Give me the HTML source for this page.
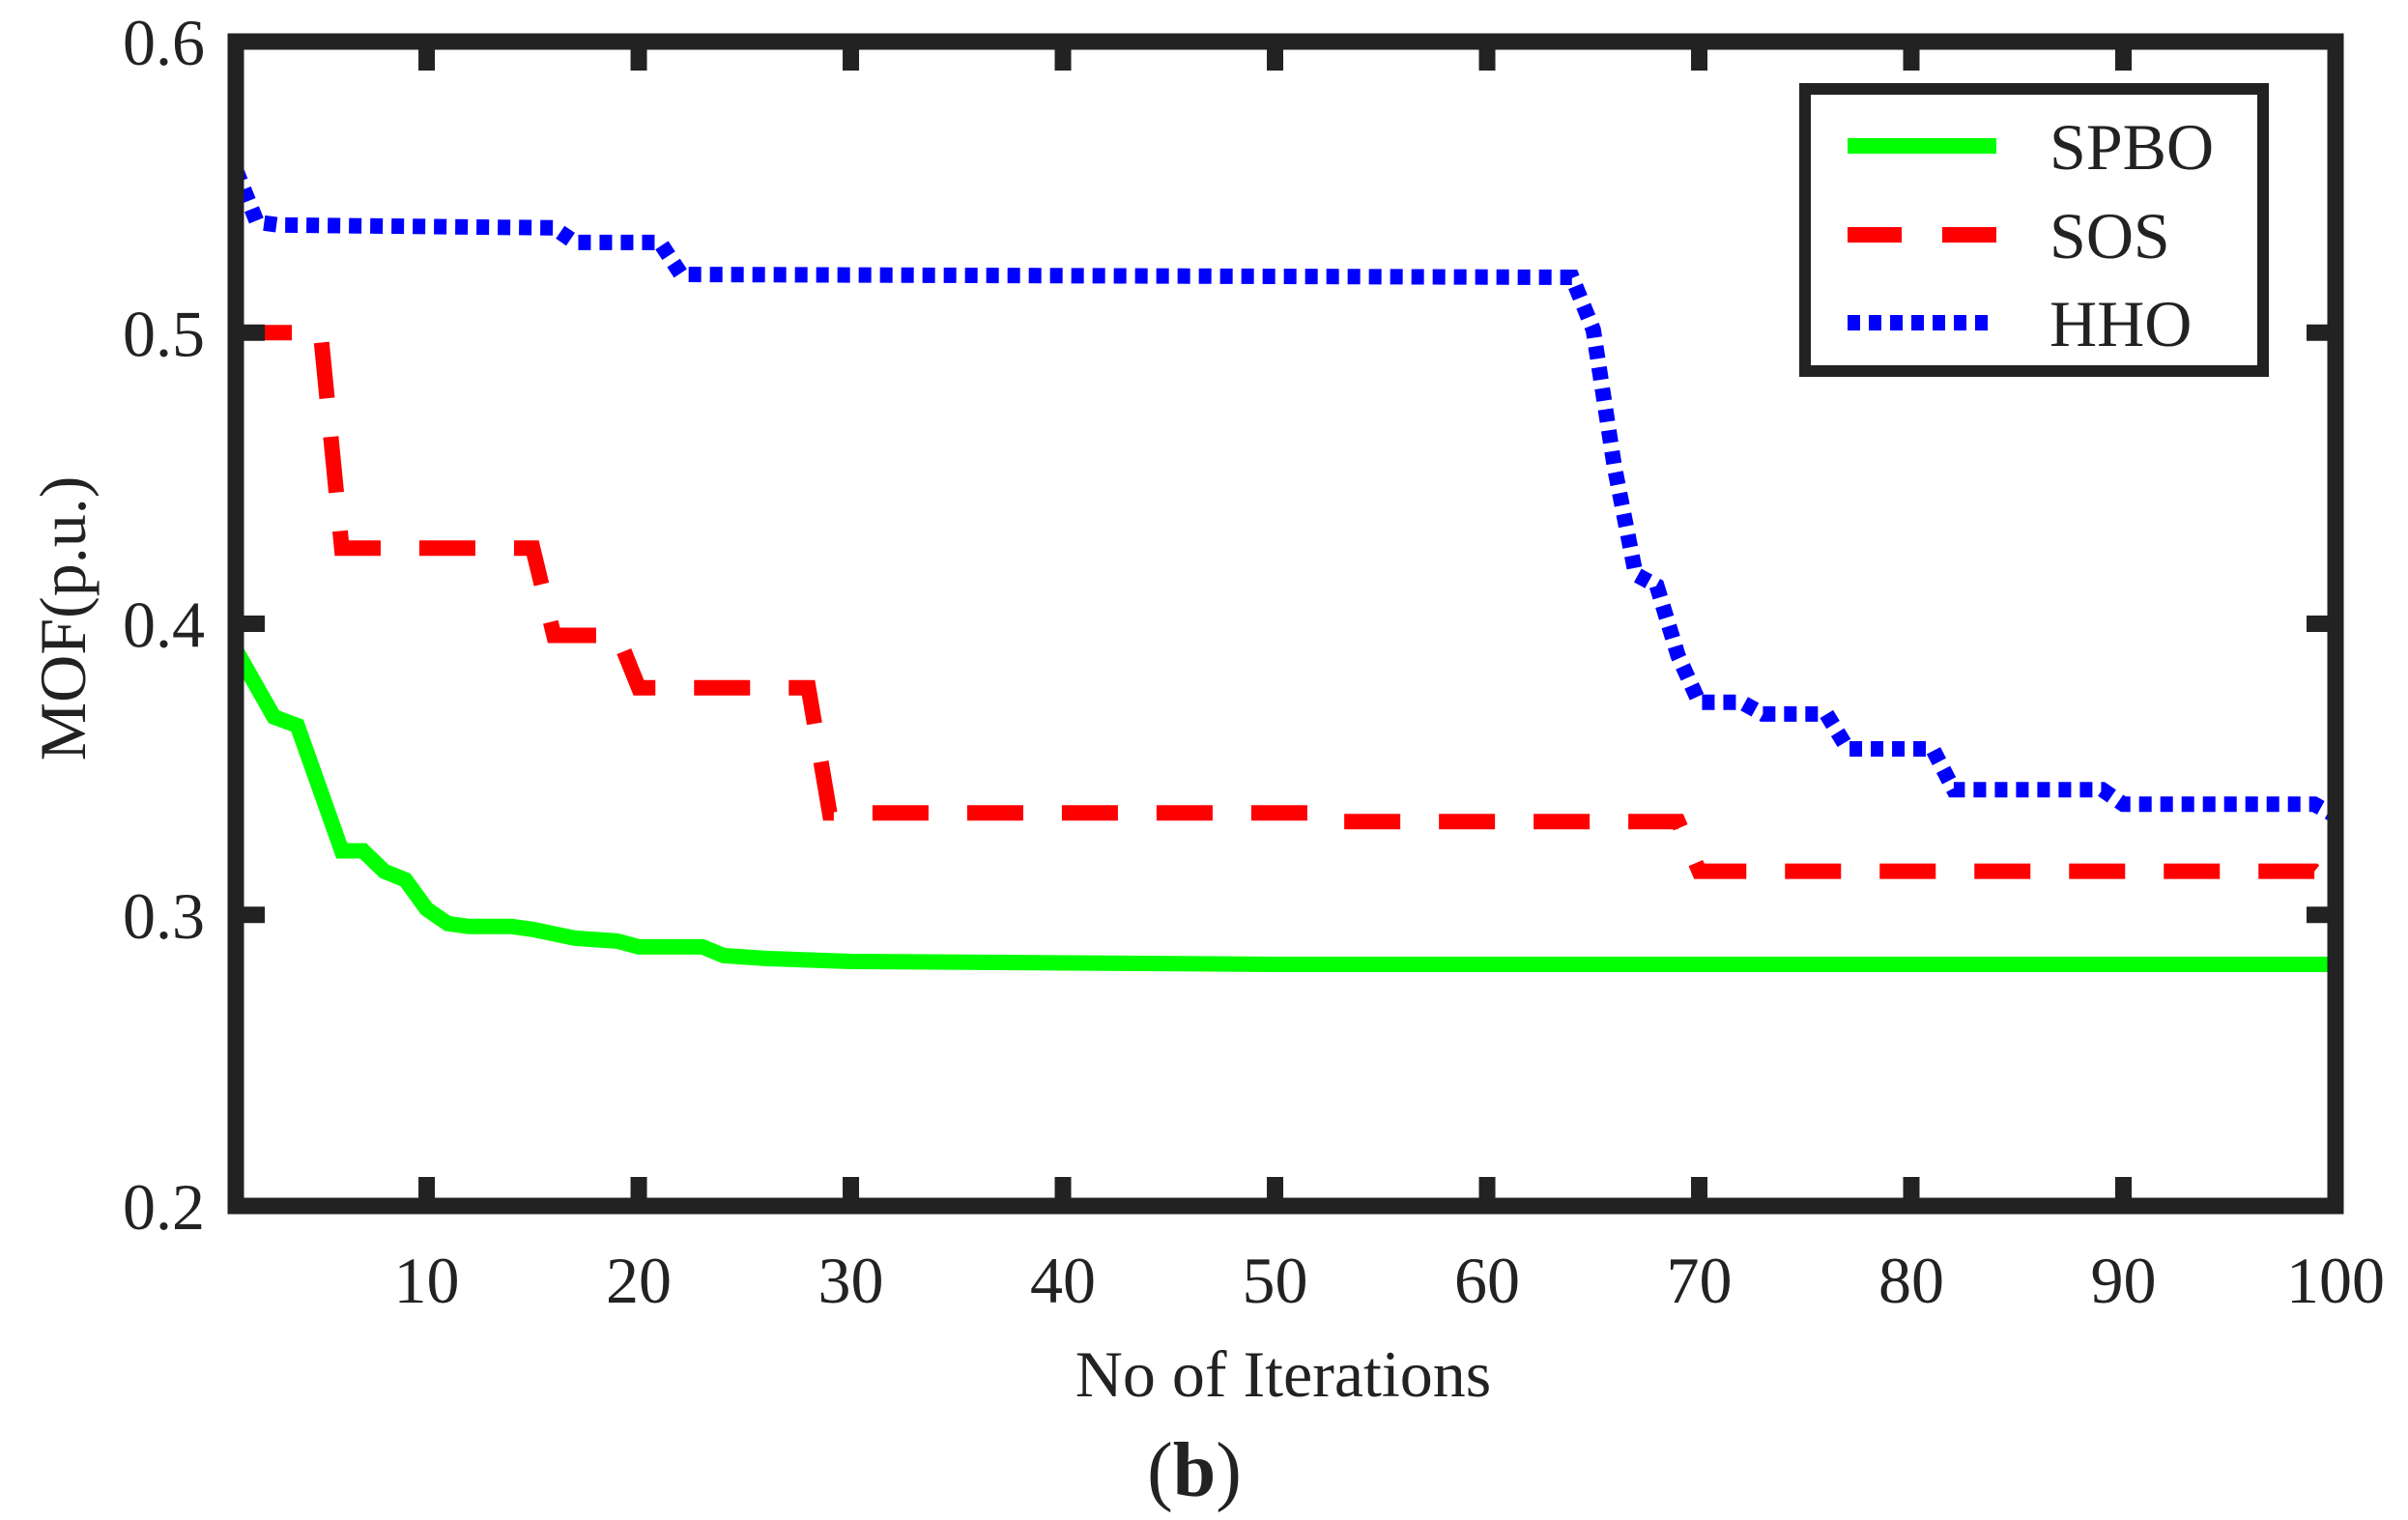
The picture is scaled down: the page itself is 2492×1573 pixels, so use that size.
<!DOCTYPE html>
<html><head><meta charset="utf-8"><style>
html,body{margin:0;padding:0;background:#fff;}
svg{display:block;font-family:"Liberation Serif",serif;}
</style></head><body>
<svg id="chart" width="2492" height="1573" viewBox="0 0 2492 1573" xmlns="http://www.w3.org/2000/svg">
<g id="series"></g>
<g id="axes"></g>
<text x="1328" y="1445" font-size="68" text-anchor="middle" fill="#222">No of Iterations</text>
<text x="1236" y="1548" font-size="80" text-anchor="middle" fill="#222">(<tspan font-weight="bold">b</tspan>)</text>
<text transform="translate(88,640) rotate(-90)" font-size="68" text-anchor="middle" fill="#222">MOF(p.u.)</text>
<g>
<rect x="1868" y="92" width="474" height="292" fill="#fff" stroke="#222" stroke-width="12"/>
<line x1="1912" y1="151" x2="2066" y2="151" stroke="#00ff00" stroke-width="16"/>
<text x="2121" y="175" font-size="68" fill="#222">SPBO</text>
<line x1="1912" y1="243" x2="2066" y2="243" stroke="#ff0000" stroke-width="16" stroke-dasharray="56 42"/>
<text x="2121" y="267" font-size="68" fill="#222">SOS</text>
<line x1="1912" y1="334" x2="2066" y2="334" stroke="#0000ff" stroke-width="16" stroke-dasharray="13 9"/>
<text x="2121" y="358" font-size="68" fill="#222">HHO</text>
</g>
</svg>
<script>
const xTicks = [10,20,30,40,50,60,70,80,90,100];
const yTicks = [0.2,0.3,0.4,0.5,0.6];
const yTickLabels = ["0.2","0.3","0.4","0.5","0.6"];
const spboIter = [1,2.8,3.9,6,7,8,9,10,11,12,14,15,17,19,20,23,24,26,30,50,100];
const spboVal = [0.391,0.368,0.365,0.322,0.322,0.315,0.312,0.302,0.297,0.296,0.296,0.295,0.292,0.291,0.289,0.289,0.286,0.285,0.284,0.283,0.283];
const sosIter = [1,5,6,15,16,19,20,28,29,52,53,69,70,99,100];
const sosVal = [0.5,0.5,0.426,0.426,0.396,0.396,0.378,0.378,0.335,0.335,0.332,0.332,0.315,0.315,0.309];
const hhoIter = [1,2,3,16,17,21,22,64,65,66,67,68,69,70,72,73,76,77,81,82,89,90,99,100];
const hhoVal = [0.556,0.538,0.537,0.536,0.531,0.531,0.52,0.519,0.501,0.454,0.417,0.413,0.389,0.373,0.373,0.369,0.369,0.357,0.357,0.343,0.343,0.338,0.338,0.334];

const L=244,R=2417,T=43,B=1248;
const xs = v => L + (v-1)/(99)*(R-L);
const ys = v => B - (v-0.2)/0.4*(B-T);
const NS="http://www.w3.org/2000/svg";
const series=document.getElementById('series'), axes=document.getElementById('axes');
function mk(tag,attrs,parent){const e=document.createElementNS(NS,tag);for(const k in attrs)e.setAttribute(k,attrs[k]);parent.appendChild(e);return e;}

function line(iter,val,color,dash,name){
  const pts=iter.map((x,i)=>xs(x).toFixed(1)+","+ys(val[i]).toFixed(1)).join(" ");
  const p=mk('polyline',{points:pts,fill:'none',stroke:color,'stroke-width':16,'stroke-linejoin':'miter'},series);
  if(dash)p.setAttribute('stroke-dasharray',dash);
  
  
}
line(spboIter,spboVal,'#00ff00',null,'spbo-line');
line(sosIter,sosVal,'#ff0000','58 40','sos-line');
line(hhoIter,hhoVal,'#0000ff','13 9','hho-line');

const frame=mk('rect',{x:L,y:T,width:R-L,height:B-T,fill:'none',stroke:'#222','stroke-width':17},axes);


xTicks.forEach(v=>{
  const x=xs(v);
  if(v<100){
    const t1=mk('line',{x1:x,y1:B,x2:x,y2:B-30,stroke:'#222','stroke-width':17},axes);
    
    
    const t2=mk('line',{x1:x,y1:T,x2:x,y2:T+30,stroke:'#222','stroke-width':17},axes);
    
    
  }
  const tx=mk('text',{x:x,y:1348,'font-size':68,'text-anchor':'middle',fill:'#222'},axes);
  tx.textContent=v;
  
  
});
yTicks.forEach((v,i)=>{
  const y=ys(v);
  if(v>0.2&&v<0.6){
    const t1=mk('line',{x1:L,y1:y,x2:L+30,y2:y,stroke:'#222','stroke-width':17},axes);
    
    
    const t2=mk('line',{x1:R,y1:y,x2:R-30,y2:y,stroke:'#222','stroke-width':17},axes);
    
    
  }
  const tx=mk('text',{x:212,y:y+24,'font-size':68,'text-anchor':'end',fill:'#222'},axes);
  tx.textContent=yTickLabels[i];
  
  
});
</script>
</body></html>
